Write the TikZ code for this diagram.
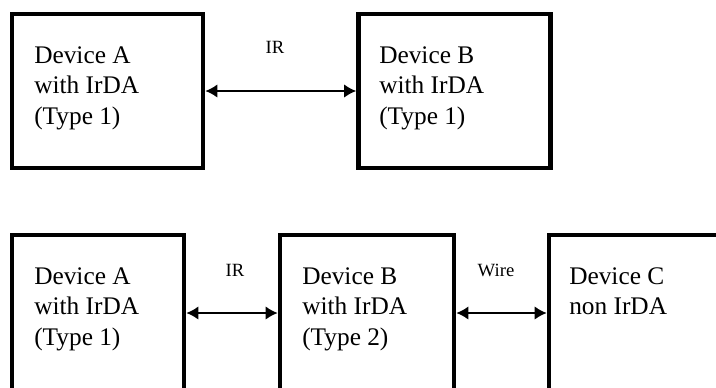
\documentclass[tikz,border=0pt]{standalone}
\usepackage{fontspec}
\setmainfont{Liberation Serif}
\usetikzlibrary{arrows.meta}

\tikzset{
  devbox/.style={draw, line width=3.4pt, inner sep=0pt, outer sep=1.7pt},
  devtext/.style={anchor=north west, inner sep=0pt, align=left, font=\fontsize{19}{22.9}\selectfont},
  linklabel/.style={inner sep=0pt, font=\fontsize{14}{16}\selectfont},
  link/.style={line width=1.4pt, {Latex[length=9pt,width=10pt]}-{Latex[length=9pt,width=10pt]}}
}

\begin{document}
\begin{tikzpicture}[x=0.75pt,y=0.75pt,yscale=-1,xscale=1]
\clip (0,0) rectangle (716,387); %set diagram left start at 0, and has height of 387

%Shape: Rectangle [top row]
\node [devbox, minimum width=143.25pt, minimum height=115.5pt] (topA) at (107.5,91) {};
%Shape: Rectangle
\node [devbox, minimum width=144pt, minimum height=115.5pt] (topB) at (454.5,91) {};
%Shape: Rectangle [bottom row]
\node [devbox, minimum width=129pt, minimum height=117pt] (botA) at (98,313) {};
%Shape: Rectangle
\node [devbox, minimum width=130.5pt, minimum height=117pt] (botB) at (367,313) {};
%Shape: Rectangle
\node [devbox, minimum width=142.5pt, minimum height=117pt] (botC) at (644,313) {};

%Straight Lines
\draw [link] (topA.east) -- (topB.west) ;
%Straight Lines
\draw [link] (botA.east) -- (botB.west) ;
%Straight Lines
\draw [link] (botB.east) -- (botC.west) ;

% Text Node
\node [devtext] (txtTopA) at (34,46) {Device A\\with IrDA\\(Type 1)};
% Text Node
\node [devtext] (txtTopB) at (379,46) {Device B\\with IrDA\\(Type 1)};
% Text Node
\node [devtext] (txtBotA) at (34,267) {Device A\\with IrDA\\(Type 1)};
% Text Node
\node [devtext] (txtBotB) at (302,267) {Device B\\with IrDA\\(Type 2)};
% Text Node
\node [devtext] (txtBotC) at (569,267) {Device C\\non IrDA};
% Text Node
\node [linklabel] (lblTop) at (275,47) {IR};
% Text Node
\node [linklabel] (lblIR) at (235,270) {IR};
% Text Node
\node [linklabel] (lblWire) at (496,270) {Wire};
\end{tikzpicture}
\end{document}
